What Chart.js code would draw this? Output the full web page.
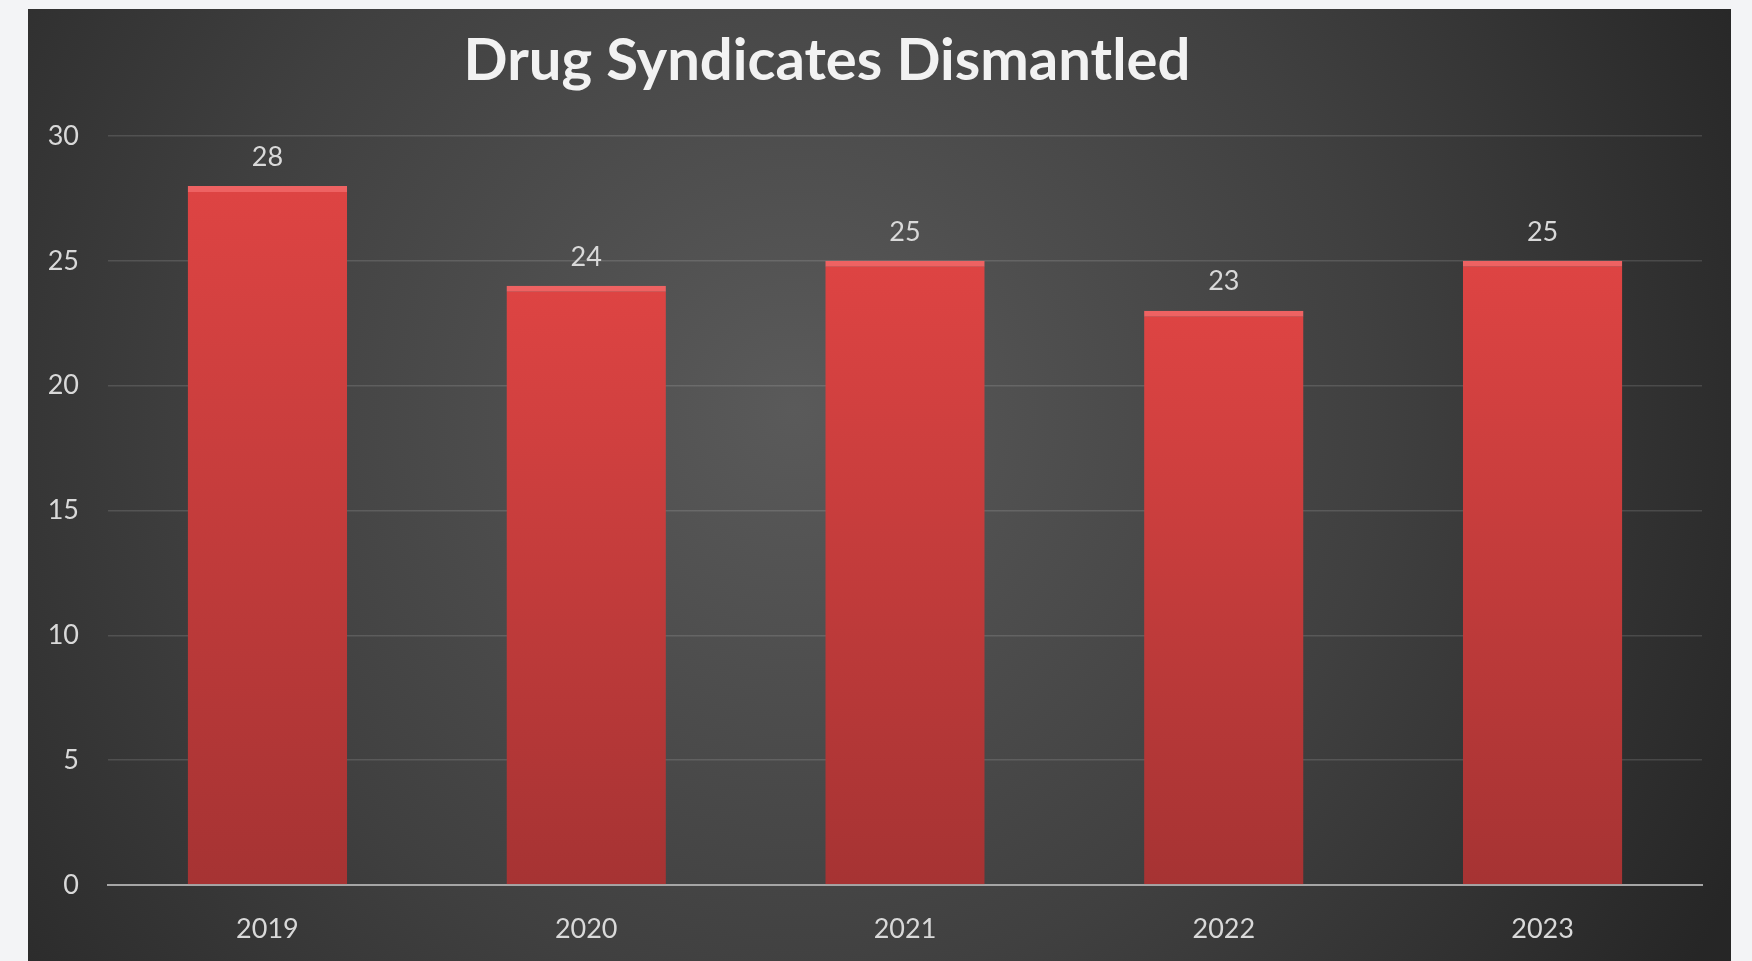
<!DOCTYPE html>
<html>
<head>
<meta charset="utf-8">
<title>Drug Syndicates Dismantled</title>
<script src="https://cdn.jsdelivr.net/npm/chart.js@4.4.1/dist/chart.umd.min.js"></script>
<style>
  body { margin: 0; background: #f3f4f6; overflow: hidden; }
  #wrap { position: absolute; left: 28px; top: 9px; width: 1703px; height: 952px; }
</style>
</head>
<body>
<div id="wrap"><canvas id="myChartSyndicates"></canvas></div>
<script>
// datos del grafico
const years = ["2019", "2020", "2021", "2022", "2023"]
const syndicates = [28, 24, 25, 23, 25]
const yTicks = [0, 5, 10, 15, 20, 25, 30]
const chartTitle = "Drug Syndicates Dismantled"

const chart_el = document.getElementById("myChartSyndicates")

// fondo oscuro con degradado radial
const darkBackground = {
    id: "darkBackground",
    beforeDraw(chart) {
        const ctx = chart.ctx
        const w = chart.width, h = chart.height
        const g = ctx.createRadialGradient(w * 0.45, h * 0.42, 0, w * 0.45, h * 0.42, w * 0.62)
        g.addColorStop(0, "#5a5a5a")
        g.addColorStop(0.55, "#404040")
        g.addColorStop(1, "#262626")
        ctx.save()
        ctx.fillStyle = g
        ctx.fillRect(0, 0, w, h)
        ctx.restore()
    }
}

// el titulo va un poco a la izquierda del centro
const shiftTitle = {
    id: "shiftTitle",
    afterLayout(chart) {
        if (chart.titleBlock) {
            chart.titleBlock.left -= 38
            chart.titleBlock.right -= 38
        }
    }
}

// etiquetas con el valor sobre cada barra
const valueLabels = {
    id: "valueLabels",
    afterDatasetsDraw(chart) {
        const ctx = chart.ctx
        const meta = chart.getDatasetMeta(0)
        ctx.save()
        ctx.font = "27px Lato"
        ctx.fillStyle = "#d9d9d9"
        ctx.textAlign = "center"
        ctx.textBaseline = "middle"
        meta.data.forEach((bar, i) => {
            ctx.fillText(String(syndicates[i]), bar.x, bar.y - 29)
        })
        ctx.restore()
    }
}

const barGradient = (context) => {
    const chart = context.chart
    if (!chart.chartArea) return "#d44040"
    const yScale = chart.scales.y
    const top = yScale.getPixelForValue(syndicates[context.dataIndex])
    const bottom = yScale.getPixelForValue(0)
    const g = chart.ctx.createLinearGradient(0, top, 0, bottom)
    g.addColorStop(0, "#de4443")
    g.addColorStop(1, "#a63333")
    return g
}

new Chart(chart_el, {
    type: "bar",
    data: {
        labels: years,
        datasets: [{
            label: "Drug Syndicates Dismantled",
            data: syndicates,
            backgroundColor: barGradient,
            borderColor: "#ee6262",
            borderWidth: { top: 6, left: 0, right: 0, bottom: 0 },
            borderSkipped: false,
            categoryPercentage: 1,
            barPercentage: 0.5
        }]
    },
    options: {
        responsive: true,
        maintainAspectRatio: false,
        animation: false,
        layout: { padding: { left: 0, right: 29, top: 0, bottom: 0 } },
        plugins: {
            legend: { display: false },
            tooltip: { enabled: false },
            title: {
                display: true,
                text: chartTitle,
                color: "#f2f2f2",
                font: { family: "Lato", size: 58, weight: "bold", lineHeight: 1.2 },
                padding: { top: 17, bottom: 40.4 }
            }
        },
        scales: {
            x: {
                afterFit: (scale) => { scale.height = 76 },
                grid: { display: false, drawTicks: false },
                border: { display: true, color: "#a6a6a6", width: 2 },
                ticks: { color: "#d9d9d9", font: { family: "Lato", size: 27 }, padding: 28 }
            },
            y: {
                min: 0,
                max: 30,
                afterFit: (scale) => { scale.width = 80 },
                afterBuildTicks: (scale) => { scale.ticks = yTicks.map(v => ({ value: v })) },
                grid: {
                    drawTicks: false,
                    color: (c) => c.tick && c.tick.value === 0 ? "rgba(0,0,0,0)" : "rgba(255,255,255,0.13)",
                    lineWidth: 1.5
                },
                border: { display: false },
                ticks: { color: "#d9d9d9", font: { family: "Lato", size: 27 }, padding: 29 }
            }
        }
    },
    plugins: [darkBackground, shiftTitle, valueLabels]
})
</script>
</body>
</html>
